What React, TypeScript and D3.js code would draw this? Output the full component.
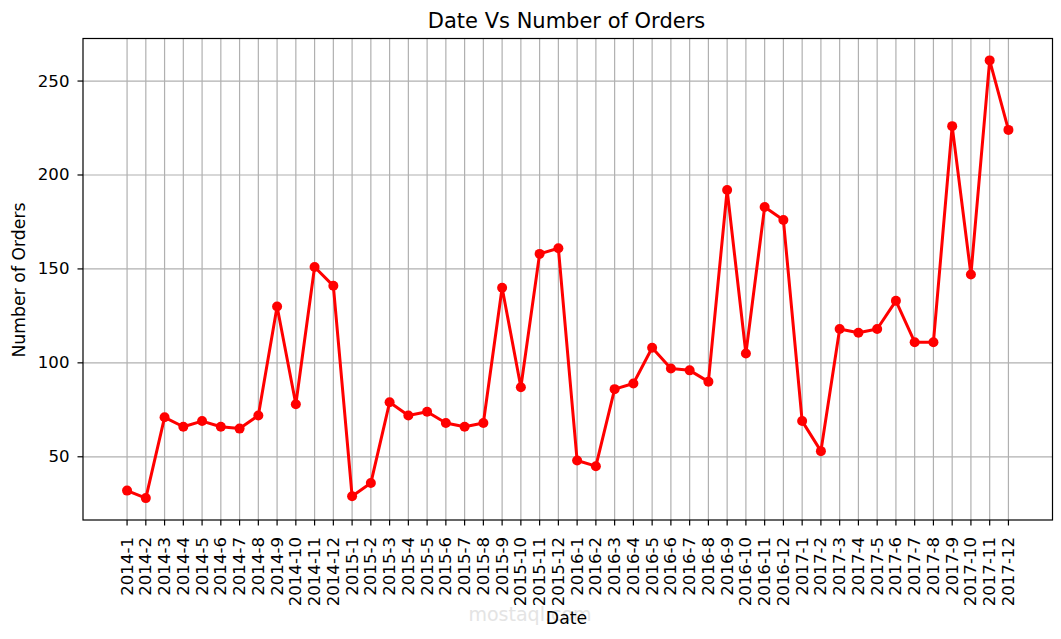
import React from "react";
import * as d3 from "d3";

const dates: string[] = [];
const years = [2014, 2015, 2016, 2017];
const months = [1, 2, 3, 4, 5, 6, 7, 8, 9, 10, 11, 12];
years.forEach((y) => months.forEach((m) => dates.push(`${y}-${m}`)));

const orders = [
  32, 28, 71, 66, 69, 66, 65, 72, 130, 78, 151, 141,
  29, 36, 79, 72, 74, 68, 66, 68, 140, 87, 158, 161,
  48, 45, 86, 89, 108, 97, 96, 90, 192, 105, 183, 176,
  69, 53, 118, 116, 118, 133, 111, 111, 226, 147, 261, 224,
];

const yTicks = [50, 100, 150, 200, 250];

const W = 1061;
const H = 639;
const left = 83;
const right = 1052.5;
const top = 38.5;
const bottom = 520;

export default function App() {
  const n = dates.length;
  const xm = (n - 1) * 0.05;
  const x = d3.scaleLinear().domain([-xm, n - 1 + xm]).range([left, right]);
  const ymin = d3.min(orders)!;
  const ymax = d3.max(orders)!;
  const ym = (ymax - ymin) * 0.05;
  const y = d3.scaleLinear().domain([ymin - ym, ymax + ym]).range([bottom, top]);
  const line = d3
    .line<number>()
    .x((_, i) => x(i))
    .y((d) => y(d));
  const font = "DejaVu Sans, sans-serif";
  const tickFs = 16.6;
  return (
    <svg
      width={W}
      height={H}
      style={{ position: "absolute", left: 0, top: 0, background: "#fff" }}
      fontFamily={font}
    >
      <rect x={0} y={0} width={W} height={H} fill="#fff" />
      {/* grid */}
      {dates.map((d, i) => (
        <line key={"gx" + d} x1={x(i)} x2={x(i)} y1={top} y2={bottom} stroke="#b0b0b0" strokeWidth={1.2} />
      ))}
      {yTicks.map((t) => (
        <line key={"gy" + t} x1={left} x2={right} y1={y(t)} y2={y(t)} stroke="#b0b0b0" strokeWidth={1.2} />
      ))}
      {/* line */}
      <path d={line(orders)!} fill="none" stroke="#ff0000" strokeWidth={3} strokeLinejoin="round" />
      {orders.map((v, i) => (
        <circle key={"p" + i} cx={x(i)} cy={y(v)} r={5} fill="#ff0000" />
      ))}
      {/* frame */}
      <rect x={left} y={top} width={right - left} height={bottom - top} fill="none" stroke="#000" strokeWidth={1.2} />
      {/* x ticks */}
      {dates.map((d, i) => (
        <g key={"tx" + d}>
          <line x1={x(i)} x2={x(i)} y1={bottom} y2={bottom + 5.5} stroke="#000" strokeWidth={1.2} />
          <text
            transform={`translate(${x(i)},${bottom + 17}) rotate(-90)`}
            textAnchor="end"
            dominantBaseline="central"
            fontSize={tickFs}
            fill="#000"
          >
            {d}
          </text>
        </g>
      ))}
      {/* y ticks */}
      {yTicks.map((t) => (
        <g key={"ty" + t}>
          <line x1={left - 5.5} x2={left} y1={y(t)} y2={y(t)} stroke="#000" strokeWidth={1.2} />
          <text x={left - 13.5} y={y(t)} textAnchor="end" dominantBaseline="central" fontSize={tickFs} fill="#000">
            {t}
          </text>
        </g>
      ))}
      {/* watermark */}
      <text x={530} y={621} textAnchor="middle" fontSize={19} fill="#e4e4e4">
        mostaql.com
      </text>
      <text x={566.5} y={28} textAnchor="middle" fontSize={21} fill="#000">
        Date Vs Number of Orders
      </text>
      <text x={566.5} y={624.3} textAnchor="middle" fontSize={17.3} fill="#000">
        Date
      </text>
      <text
        transform={`translate(25,280) rotate(-90)`}
        textAnchor="middle"
        fontSize={17.3}
        fill="#000"
      >
        Number of Orders
      </text>
    </svg>
  );
}
